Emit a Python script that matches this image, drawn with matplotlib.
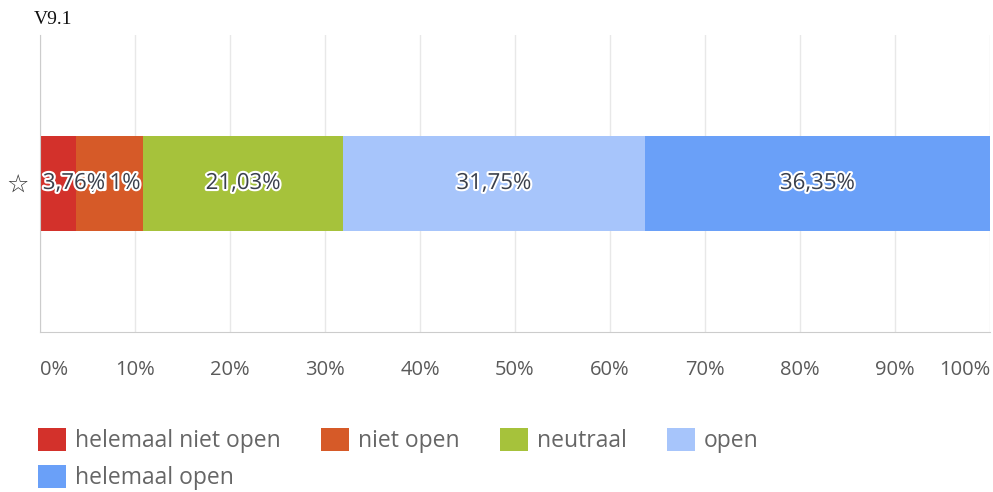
import matplotlib.pyplot as plt
import matplotlib.patheffects as pe

categories = ["helemaal niet open", "niet open", "neutraal", "open", "helemaal open"]
values = [3.76, 7.11, 21.03, 31.75, 36.35]
colors = ["#d3312b", "#d65a28", "#a6c23b", "#a7c5fb", "#6aa0f8"]
ticks = [0, 10, 20, 30, 40, 50, 60, 70, 80, 90, 100]

plt.rcParams['font.family'] = ['Open Sans', 'DejaVu Sans']

fig = plt.figure(figsize=(9.93, 4.92), dpi=100)
ax = fig.add_axes([40 / 993, 1 - 332 / 492, 950 / 993, 297 / 492])

left = 0
bars = []
for i, (cat, val, col) in enumerate(zip(categories, values, colors)):
    b = ax.barh(0, val, left=left, height=0.97, color=col, label=cat, zorder=2)
    bars.append(b)
    lab = f"{val:.2f}%".replace(".", ",")
    if i == 0:
        # too narrow: label is pushed right so it starts at the bar edge
        txt = ax.text(left + 0.3, 0, lab, ha="left", va="center", fontsize=16,
                      color="#3b404c", zorder=10 - i)
    else:
        txt = ax.text(left + val / 2, 0, lab, ha="center", va="center", fontsize=16,
                      color="#3b404c", zorder=10 - i)
    txt.set_path_effects([pe.withStroke(linewidth=3, foreground="white")])
    left += val

ax.set_xlim(0, 100)
ax.set_ylim(-1.53, 1.53)
ax.set_xticks(ticks)
ax.set_xticklabels([f"{t}%" for t in ticks], fontsize=14.5, color="#5a5a5a")
ax.tick_params(axis="x", length=0, pad=20)
labels = ax.get_xticklabels()
labels[0].set_horizontalalignment("left")
labels[-1].set_horizontalalignment("right")
ax.set_yticks([0])
ax.set_yticklabels(["☆"], fontsize=18, color="#333333", family="DejaVu Sans")
ax.tick_params(axis="y", length=0, pad=8)
ax.grid(axis="x", color="#e8e8e8", linewidth=1, zorder=0)
for s in ["top", "right"]:
    ax.spines[s].set_visible(False)
ax.spines["left"].set_color("#cccccc")
ax.spines["bottom"].set_color("#cccccc")

fig.text(34 / 993, 1 - 20 / 492, "V9.1", fontsize=14, family="Liberation Serif",
         ha="left", va="center", color="#111111")

# legend filled row by row: 4 per row
order = [0, 4, 1, 2, 3]
handles = [bars[i] for i in order]
lbls = [categories[i] for i in order]
leg = fig.legend(handles, lbls, loc="upper left", bbox_to_anchor=(38 / 993, 1 - 428 / 492),
                 ncol=4, frameon=False, fontsize=16.5, handlelength=1.22, handleheight=1.2,
                 handletextpad=0.4, columnspacing=1.75, labelspacing=0.5,
                 labelcolor="#666666", borderpad=0, borderaxespad=0)

fig.savefig("out.png", dpi=100, facecolor="white")
